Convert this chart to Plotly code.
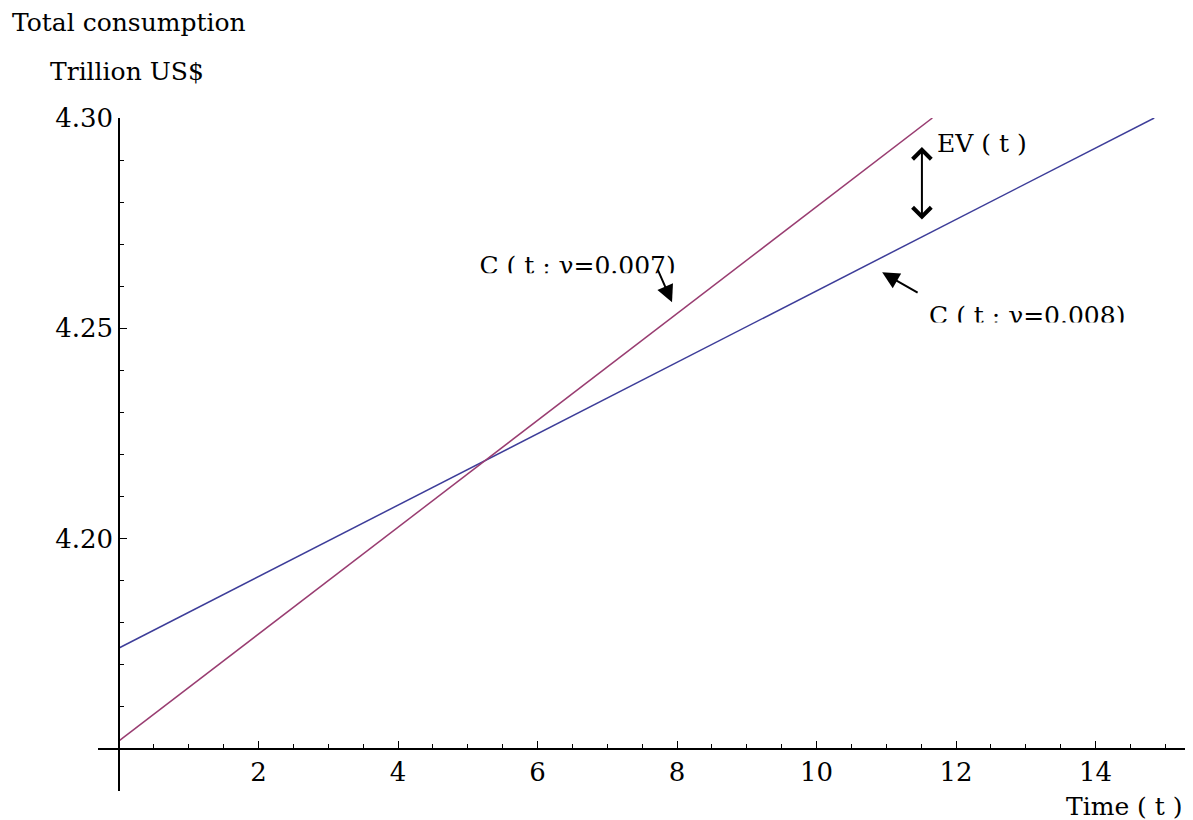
import plotly.graph_objects as go

# --- data ---
t_g008 = [0, 2, 4, 6, 8, 10, 12, 14, 14.84]
c_g008 = [4.1740, 4.1910, 4.2080, 4.2250, 4.2419, 4.2589, 4.2759, 4.2929, 4.3000]
t_g007 = [0, 2, 4, 6, 8, 10, 11.66]
c_g007 = [4.1519, 4.1773, 4.2027, 4.2281, 4.2535, 4.2789, 4.3000]

x_ticks = [2, 4, 6, 8, 10, 12, 14]
x_ticktext = ["2", "4", "6", "8", "10", "12", "14"]
y_ticks = [4.20, 4.25, 4.30]
y_ticktext = ["4.20", "4.25", "4.30"]

x_range = [-0.301, 15.31]
y_range = [4.14, 4.30]
x_cross = 0.0
y_cross = 4.15

FONT = "DejaVu Serif"
BLUE = "#3D3D99"
RED = "#993D71"
TXT = 25
TICK = 26

fig = go.Figure()
fig.add_trace(go.Scatter(x=t_g008, y=c_g008, mode="lines",
                         line=dict(color=BLUE, width=1.5), showlegend=False))
fig.add_trace(go.Scatter(x=t_g007, y=c_g007, mode="lines",
                         line=dict(color=RED, width=1.5), showlegend=False))

# clipped curve labels (text traces, partly hidden by white boxes like the original)
fig.add_trace(go.Scatter(x=[6.574, 13.02], y=[4.2644, 4.2525], mode="text",
                         text=["C ( t ; γ=0.007)", "C ( t ; γ=0.008)"],
                         textfont=dict(family=FONT, size=TXT, color="black"),
                         textposition="middle center", showlegend=False,
                         cliponaxis=False))

shapes = [
    dict(type="rect", xref="x", yref="y", x0=5.0, x1=8.05, y0=4.2579, y1=4.2631,
         fillcolor="white", line=dict(width=0), layer="above"),
    dict(type="rect", xref="x", yref="y", x0=11.48, x1=14.6, y0=4.2460, y1=4.2514,
         fillcolor="white", line=dict(width=0), layer="above"),
]

annotations = [
    dict(text="Total consumption", x=-0.0808, y=1.1420, xref="paper", yref="paper",
         xanchor="left", yanchor="middle", showarrow=False,
         font=dict(family=FONT, size=TXT, color="black")),
    dict(text="Trillion US$", x=-0.0459, y=1.0684, xref="paper", yref="paper",
         xanchor="left", yanchor="middle", showarrow=False,
         font=dict(family=FONT, size=TXT, color="black")),
    dict(text="Time ( t )", x=0.9982, y=-0.0223, xref="paper", yref="paper",
         xanchor="right", yanchor="middle", showarrow=False,
         font=dict(family=FONT, size=TXT, color="black")),
    dict(text="EV ( t )", x=11.70, y=4.2940, xref="x", yref="y",
         xanchor="left", yanchor="middle", showarrow=False,
         font=dict(family=FONT, size=TXT, color="black")),
    # EV double arrow
    dict(x=11.51, y=4.2931, ax=11.51, ay=4.2755, xref="x", yref="y",
         axref="x", ayref="y", text="", showarrow=True, arrowhead=4,
         startarrowhead=4, arrowside="end+start", arrowsize=1.8,
         startarrowsize=1.8, arrowwidth=2, arrowcolor="black"),
    # arrow to gamma=0.007 curve
    dict(x=7.928, y=4.2562, ax=7.713, ay=4.2643, xref="x", yref="y",
         axref="x", ayref="y", text="", showarrow=True, arrowhead=2,
         arrowsize=1.7, arrowwidth=2, arrowcolor="black"),
    # arrow to gamma=0.008 curve
    dict(x=10.94, y=4.2633, ax=11.47, ay=4.2583, xref="x", yref="y",
         axref="x", ayref="y", text="", showarrow=True, arrowhead=2,
         arrowsize=1.7, arrowwidth=2, arrowcolor="black"),
]

# the page body adds an 8px offset, so the figure is 8px smaller and margins compensate
fig.update_layout(
    width=1185, height=812,
    margin=dict(l=90, r=6, t=110, b=29),
    paper_bgcolor="white", plot_bgcolor="white",
    shapes=shapes, annotations=annotations,
    xaxis=dict(range=x_range, anchor="free", automargin=False,
               position=(y_cross - y_range[0]) / (y_range[1] - y_range[0]),
               showgrid=False, zeroline=False, showline=True,
               linecolor="black", linewidth=1.5,
               tickvals=x_ticks, ticktext=x_ticktext,
               ticks="inside", ticklen=7, tickwidth=1, tickcolor="black",
               minor=dict(ticks="inside", dtick=0.5, tick0=0, ticklen=4,
                          tickwidth=1, tickcolor="black", showgrid=False),
               tickfont=dict(family=FONT, size=TICK, color="black")),
    yaxis=dict(range=y_range, anchor="free", automargin=False,
               position=(x_cross - x_range[0]) / (x_range[1] - x_range[0]),
               showgrid=False, zeroline=False, showline=True,
               linecolor="black", linewidth=1.5,
               tickvals=y_ticks, ticktext=y_ticktext,
               ticks="inside", ticklen=7, tickwidth=1, tickcolor="black",
               minor=dict(ticks="inside", dtick=0.01, tick0=4.14, ticklen=4,
                          tickwidth=1, tickcolor="black", showgrid=False),
               tickfont=dict(family=FONT, size=TICK, color="black")),
)

fig.write_html("out.html")
